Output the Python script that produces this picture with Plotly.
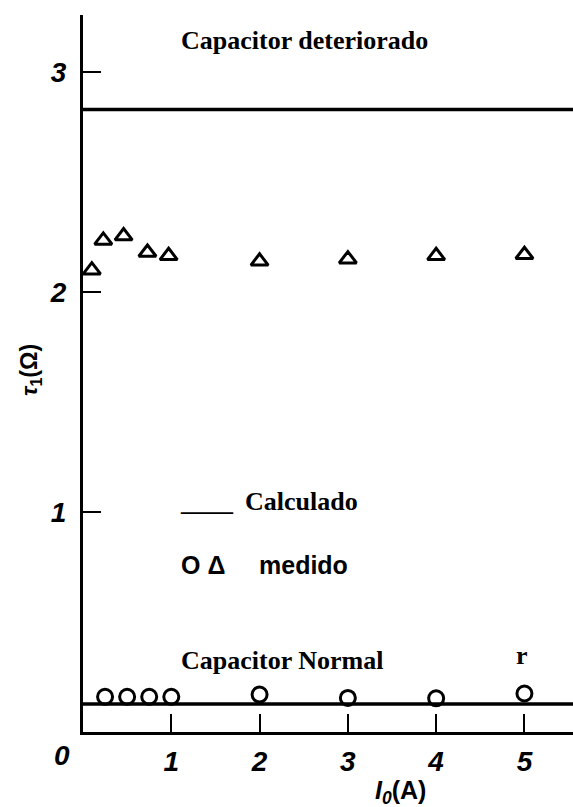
import plotly.graph_objects as go

# ---- data ----
det_x = [0.1, 0.23, 0.46, 0.73, 0.97, 2, 3, 4, 5]
det_y = [2.10, 2.235, 2.255, 2.18, 2.165, 2.14, 2.15, 2.165, 2.17]
norm_x = [0.25, 0.5, 0.75, 1.0, 2, 3, 4, 5]
norm_y = [0.16, 0.16, 0.16, 0.16, 0.17, 0.155, 0.153, 0.175]
calc_det = 2.83
calc_norm = 0.127
line_x = [0, 6]
x_ticks = [1, 2, 3, 4, 5]
y_ticks = [1, 2, 3]

W, H = 573, 807
L, R, T, B = 83, 0, 15, 75
PW, PH = W - L - R, H - T - B


def px(x):
    return (x - L) / PW


def py(y):
    return (H - B - y) / PH


fig = go.Figure()
fig.add_trace(go.Scatter(x=line_x, y=[calc_det] * len(line_x), mode="lines",
                         line=dict(color="black", width=3.5), showlegend=False))
fig.add_trace(go.Scatter(x=line_x, y=[calc_norm] * len(line_x), mode="lines",
                         line=dict(color="black", width=3.5), showlegend=False))
fig.add_trace(go.Scatter(x=det_x, y=det_y, mode="markers",
                         marker=dict(symbol="triangle-up-open", size=15, color="black",
                                     line=dict(width=3, color="black")),
                         showlegend=False))
fig.add_trace(go.Scatter(x=norm_x, y=norm_y, mode="markers",
                         marker=dict(symbol="circle-open", size=15, color="black",
                                     line=dict(width=3, color="black")),
                         showlegend=False))

tickfont = dict(family="Liberation Sans", size=28, color="black", style="italic", weight="bold")

fig.update_xaxes(range=[0, 5.55], showline=True, linewidth=3, linecolor="black",
                 ticks="inside", ticklen=18, tickwidth=2, tickcolor="black",
                 tickvals=x_ticks, ticktext=[str(v) for v in x_ticks],
                 tickfont=tickfont, ticklabelstandoff=2,
                 showgrid=False, zeroline=False)
fig.update_yaxes(range=[0, 3.26], showline=True, linewidth=3, linecolor="black",
                 ticks="inside", ticklen=18, tickwidth=2, tickcolor="black",
                 tickvals=y_ticks, ticktext=[str(v) for v in y_ticks],
                 tickfont=tickfont, ticklabelstandoff=8,
                 showgrid=False, zeroline=False)

serif = dict(family="Liberation Serif", size=26, color="black", weight="bold")
sans = dict(family="Liberation Sans", size=25, color="black", weight="bold")


def note(text, x, y, font, xanchor="left", angle=0):
    fig.add_annotation(text=text, xref="paper", yref="paper", x=px(x), y=py(y),
                       xanchor=xanchor, yanchor="middle", showarrow=False,
                       font=font, textangle=angle)


note("Capacitor deteriorado", 179, 41, serif)
note("____", 178, 502, serif)
note("Calculado", 243, 502, serif)
note("O Δ", 179, 565, sans)
note("medido", 257, 565, sans)
note("Capacitor Normal", 179, 660, serif)
note("r", 522, 655, serif, xanchor="center")
note("0", 62, 755, tickfont, xanchor="center")
note("<i>I</i><sub><i>0</i></sub>(A)", 400, 792,
     dict(family="Liberation Sans", size=25, color="black", weight="bold"), xanchor="center")
note("<i>τ</i><sub>1</sub>(Ω)", 30, 370,
     dict(family="Liberation Sans", size=23, color="black", weight="bold"), xanchor="center", angle=-90)

fig.update_layout(width=W, height=H, margin=dict(l=L, r=R, t=T, b=B),
                  paper_bgcolor="white", plot_bgcolor="white")

fig.write_html("out.html")
